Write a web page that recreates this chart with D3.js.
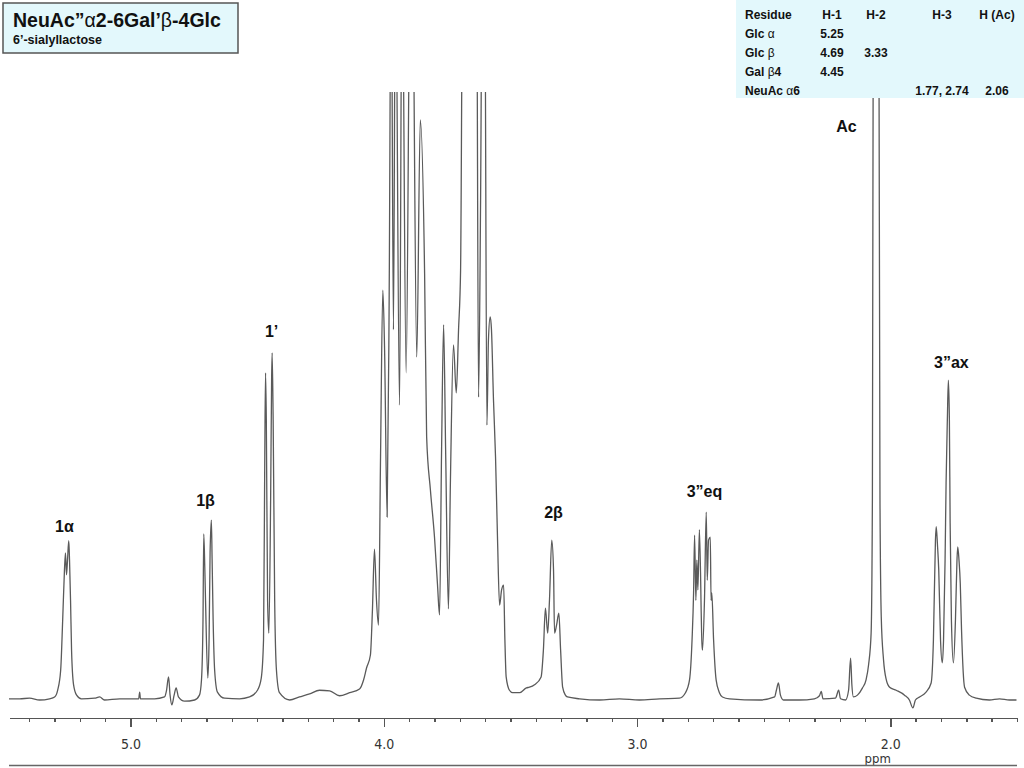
<!DOCTYPE html>
<html lang="en">
<head>
<meta charset="utf-8">
<script src="https://cdn.jsdelivr.net/npm/d3@7"></script>
<style>
  body { margin: 0; background: #fff; }
  svg text { font-family: 'Liberation Sans', Arial, sans-serif; }
  .axis path, .axis line { stroke: #555; stroke-width: 1.4px; shape-rendering: crispEdges; }
  .axis text, .unit { font-family: 'DejaVu Sans Condensed', 'Liberation Sans Narrow', sans-serif; font-stretch: condensed; font-size: 14px; fill: #333; }
  .peak-label { font-size: 16px; font-weight: bold; fill: #111; }
  .tbl { font-size: 12px; font-weight: bold; fill: #111; }
</style>
</head>
<body>
<svg id="chart" width="1024" height="768"></svg>
<script>
// spectrum trace: [ppm, relative intensity] (100 = top of plot)
var spectrum = [
  [5.482, 0.2], [5.438, 0.2], [5.399, 0.3], [5.359, 0.0], [5.320, 0.2], [5.300, 0.5],
  [5.288, 1.6], [5.276, 4.9], [5.268, 13.2], [5.261, 21.4], [5.257, 24.2], [5.253, 20.6],
  [5.249, 23.0], [5.244, 26.2], [5.241, 23.0], [5.237, 16.4], [5.233, 8.2], [5.225, 2.5],
  [5.213, 0.8], [5.194, 0.2], [5.142, 0.3], [5.122, 0.5], [5.103, 0.0], [5.043, 0.2],
  [4.968, 0.2], [4.964, 1.3], [4.961, 0.2], [4.905, 0.2], [4.866, 0.5], [4.858, 1.6],
  [4.850, 3.8], [4.844, 0.8], [4.837, -0.8], [4.828, 0.8], [4.820, 2.0], [4.811, 0.5],
  [4.787, -0.2], [4.747, 0.0], [4.728, 0.8], [4.720, 3.3], [4.714, 13.2], [4.711, 27.3],
  [4.707, 21.9], [4.704, 16.4], [4.695, 3.6], [4.690, 9.9], [4.686, 24.2], [4.681, 29.6],
  [4.678, 23.0], [4.674, 13.2], [4.668, 4.9], [4.657, 1.3], [4.629, 0.3], [4.570, 0.2],
  [4.530, 0.5], [4.499, 1.6], [4.484, 3.6], [4.475, 9.9], [4.470, 40.6], [4.467, 53.8],
  [4.464, 46.1], [4.459, 16.4], [4.454, 11.0], [4.447, 32.9], [4.443, 53.0], [4.441, 57.1],
  [4.437, 46.1], [4.431, 16.4], [4.424, 4.9], [4.412, 1.2], [4.372, 0.0], [4.333, 0.5],
  [4.293, 1.0], [4.254, 1.6], [4.214, 1.5], [4.175, 0.7], [4.135, 1.2], [4.096, 1.8],
  [4.080, 3.3], [4.068, 5.3], [4.053, 7.4], [4.045, 14.8], [4.037, 24.8], [4.029, 16.4],
  [4.021, 12.3], [4.013, 40.0], [4.004, 67.4], [3.997, 57.6], [3.987, 30.1], [3.979, 65.8],
  [3.971, 125], [3.962, 60.9], [3.954, 125], [3.938, 48.5], [3.928, 125], [3.912, 53.8],
  [3.895, 125], [3.888, 125], [3.870, 56.4], [3.856, 95.4], [3.839, 70.1], [3.831, 43.3],
  [3.816, 34.5], [3.800, 26.8], [3.788, 18.9], [3.780, 14.0], [3.772, 41.1], [3.764, 61.7],
  [3.756, 41.1], [3.745, 15.0], [3.737, 36.2], [3.725, 58.4], [3.714, 50.5], [3.705, 60.9],
  [3.697, 70.6], [3.688, 125], [3.677, 125], [3.662, 125], [3.646, 125], [3.634, 125],
  [3.626, 49.8], [3.618, 82.2], [3.611, 125], [3.602, 125], [3.593, 45.2], [3.587, 59.2],
  [3.580, 63.0], [3.575, 60.9], [3.567, 49.3], [3.559, 40.0], [3.551, 26.3], [3.543, 15.6],
  [3.535, 18.1], [3.527, 18.9], [3.522, 9.9], [3.517, 3.8], [3.504, 1.6], [3.492, 1.2],
  [3.464, 1.2], [3.437, 2.0], [3.425, 2.1], [3.405, 2.5], [3.379, 3.8], [3.370, 8.2],
  [3.362, 15.1], [3.353, 11.0], [3.346, 16.4], [3.337, 26.3], [3.330, 21.4], [3.326, 11.0],
  [3.318, 12.3], [3.309, 14.3], [3.302, 8.2], [3.294, 2.1], [3.283, 0.8], [3.275, 0.5],
  [3.227, 0.2], [3.148, 0.0], [3.070, 0.2], [2.991, 0.0], [2.911, 0.2], [2.833, 0.3],
  [2.809, 1.2], [2.793, 3.3], [2.783, 9.9], [2.777, 17.6], [2.773, 27.1], [2.768, 16.4],
  [2.764, 23.0], [2.760, 18.1], [2.754, 28.0], [2.744, 9.4], [2.742, 8.2], [2.734, 16.4],
  [2.727, 30.9], [2.723, 19.7], [2.718, 26.3], [2.711, 26.8], [2.708, 16.4], [2.705, 17.6],
  [2.698, 9.9], [2.688, 3.3], [2.675, 1.2], [2.663, 0.5], [2.635, 0.2], [2.517, 0.0],
  [2.457, 0.5], [2.450, 1.6], [2.442, 2.8], [2.434, 0.8], [2.422, 0.0], [2.359, 0.0],
  [2.300, 0.2], [2.280, 0.7], [2.273, 1.4], [2.266, 0.2], [2.217, 0.3], [2.204, 1.6],
  [2.197, 0.2], [2.177, 0.0], [2.165, 1.6], [2.157, 6.9], [2.152, 2.5], [2.146, 0.5],
  [2.130, 0.8], [2.110, 2.0], [2.096, 3.3], [2.086, 5.8], [2.076, 11.0], [2.071, 32.9],
  [2.067, 125], [2.056, 160], [2.046, 125], [2.041, 32.9], [2.036, 13.7], [2.027, 6.6],
  [2.016, 3.3], [2.003, 2.1], [1.977, 1.6], [1.944, 0.8], [1.925, 0.0], [1.911, -1.3],
  [1.901, 0.0], [1.885, 0.5], [1.861, 1.2], [1.839, 2.8], [1.830, 9.9], [1.822, 26.3],
  [1.819, 28.5], [1.814, 25.5], [1.809, 21.4], [1.802, 9.9], [1.795, 6.1], [1.790, 9.9],
  [1.784, 23.0], [1.780, 35.7], [1.775, 46.1], [1.771, 52.6], [1.767, 46.1], [1.764, 29.1],
  [1.759, 13.2], [1.751, 6.1], [1.743, 13.2], [1.737, 23.0], [1.734, 25.2], [1.729, 23.0],
  [1.724, 19.2], [1.719, 11.5], [1.707, 2.1], [1.688, 0.8], [1.661, 0.3], [1.609, 0.0],
  [1.569, 0.2], [1.530, 0.0], [1.502, 0.0]
];

// peak annotations: text, ppm, intensity level of the label baseline
var peakLabels = [
  { text: '1α', ppm: 5.261, level: 27.6 },
  { text: '1β', ppm: 4.704, level: 31.9 },
  { text: '1’', ppm: 4.443, level: 59.7 },
  { text: '2β', ppm: 3.330, level: 29.9 },
  { text: '3”eq', ppm: 2.734, level: 33.4 },
  { text: 'Ac', ppm: 2.173, level: 93.4 },
  { text: '3”ax', ppm: 1.759, level: 54.6 }
];

var majorTicks = [5.0, 4.0, 3.0, 2.0];

// chemical shift table
var tableHeaders = ['Residue', 'H-1', 'H-2', 'H-3', 'H (Ac)'];
var tableResidues = ['Glc α', 'Glc β', 'Gal β4', 'NeuAc α6'];
var colH1 = ['5.25', '4.69', '4.45', ''];
var colH2 = ['', '3.33', '', ''];
var colH3 = ['', '', '', '1.77, 2.74'];
var colHAc = ['', '', '', '2.06'];

var titleText = 'NeuAc”α2-6Gal’β-4Glc';
var subtitleText = '6’-sialyllactose';

var svg = d3.select('#chart');

var xScale = d3.scaleLinear()
  .domain([5.48, 1.50])
  .range([9, 1017]);

var yScale = d3.scaleLinear()
  .domain([0, 100])
  .range([700, 92]);

// clip the trace at the top of the plot, like the original
svg.append('clipPath')
  .attr('id', 'plotclip')
  .append('rect')
  .attr('x', 9)
  .attr('y', yScale(100))
  .attr('width', 1008)
  .attr('height', 630);

var line = d3.line()
  .x(function(d) { return xScale(d[0]); })
  .y(function(d) { return yScale(d[1]); })
  .curve(d3.curveMonotoneX);

svg.append('path')
  .datum(spectrum)
  .attr('clip-path', 'url(#plotclip)')
  .attr('fill', 'none')
  .attr('stroke', '#5a5a5a')
  .attr('stroke-width', 1.3)
  .attr('stroke-linejoin', 'round')
  .attr('d', line);

// axes: minor ticks every 0.1 ppm, labelled major ticks every 1 ppm
var axisY = 718;

svg.append('g')
  .attr('class', 'axis')
  .attr('transform', 'translate(0,' + axisY + ')')
  .call(d3.axisBottom(xScale)
    .ticks(40)
    .tickSize(4)
    .tickSizeOuter(0)
    .tickFormat(''));

var major = svg.append('g')
  .attr('class', 'axis')
  .attr('transform', 'translate(0,' + axisY + ')')
  .call(d3.axisBottom(xScale)
    .tickValues(majorTicks)
    .tickSize(9)
    .tickPadding(12)
    .tickFormat(d3.format('.1f')));
major.select('.domain').remove();

svg.append('text')
  .attr('class', 'unit')
  .attr('x', xScale(2.05))
  .attr('y', 763)
  .attr('text-anchor', 'middle')
  .style('font-size', '13px')
  .text('ppm');

svg.append('line')
  .attr('x1', xScale.range()[0])
  .attr('x2', xScale.range()[1])
  .attr('y1', 765.5)
  .attr('y2', 765.5)
  .attr('stroke', '#666')
  .attr('stroke-width', 1.5);

// peak labels
svg.append('g')
  .selectAll('text')
  .data(peakLabels)
  .enter()
  .append('text')
  .attr('class', 'peak-label')
  .attr('x', function(d) { return xScale(d.ppm); })
  .attr('y', function(d) { return yScale(d.level); })
  .attr('text-anchor', 'middle')
  .text(function(d) { return d.text; });

// shift table at top right
svg.append('rect')
  .attr('x', 736)
  .attr('y', 0)
  .attr('width', 288)
  .attr('height', 98)
  .attr('fill', '#e3f8fc');

var rowY = [19, 38, 57, 76, 95];
var colX = [745, 832, 876, 942, 997];

function boldWithGreek(sel, str) {
  str.split(/([αβ])/).forEach(function(part) {
    if (!part) return;
    sel.append('tspan')
      .style('font-weight', /[αβ]/.test(part) ? 'normal' : 'bold')
      .text(part);
  });
}

tableHeaders.forEach(function(h, i) {
  svg.append('text')
    .attr('class', 'tbl')
    .attr('x', colX[i])
    .attr('y', rowY[0])
    .attr('text-anchor', i === 0 ? 'start' : 'middle')
    .text(h);
});

tableResidues.forEach(function(r, i) {
  var t = svg.append('text')
    .attr('class', 'tbl')
    .attr('x', colX[0])
    .attr('y', rowY[i + 1]);
  boldWithGreek(t, r);
  [colH1, colH2, colH3, colHAc].forEach(function(col, j) {
    if (!col[i]) return;
    svg.append('text')
      .attr('class', 'tbl')
      .attr('x', colX[j + 1])
      .attr('y', rowY[i + 1])
      .attr('text-anchor', 'middle')
      .text(col[i]);
  });
});

// title box top left
svg.append('rect')
  .attr('x', 3)
  .attr('y', 3)
  .attr('width', 235)
  .attr('height', 50)
  .attr('fill', '#e3f8fc')
  .attr('stroke', '#555')
  .attr('stroke-width', 1.5);

var title = svg.append('text')
  .attr('x', 13)
  .attr('y', 27)
  .style('font-size', '19.5px')
  .style('fill', '#111');
boldWithGreek(title, titleText);

svg.append('text')
  .attr('x', 13)
  .attr('y', 44)
  .style('font-size', '12.5px')
  .style('font-weight', 'bold')
  .style('fill', '#111')
  .text(subtitleText);
</script>
</body>
</html>
